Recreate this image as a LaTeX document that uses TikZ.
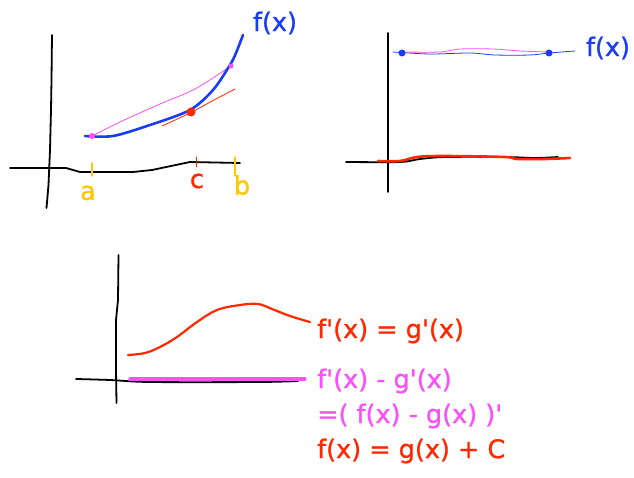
\documentclass[tikz,border=0pt]{standalone}
\usepackage{fontspec}
\newfontfamily\lab{DejaVu Sans}[FakeBold=1]
\definecolor{fblue}{RGB}{25,60,245}
\definecolor{fred}{RGB}{255,40,0}
\definecolor{fpink}{RGB}{250,80,250}
\definecolor{fyel}{RGB}{255,200,0}
\begin{document}
\begin{tikzpicture}[x=1pt,y=-1pt,line cap=round,line join=round,
  axis/.style={black,line width=1.8pt},
  txt/.style={font=\lab\fontsize{25.5}{30}\selectfont,inner sep=0pt},
  dotm/.style={circle,inner sep=0pt,minimum size=#1}]
\useasboundingbox (0,0) rectangle (634,478);
\fill[white] (0,0) rectangle (634,478);
% ---------- panel 1 ----------
\draw[axis] (52,35) -- (51.5,80) -- (51,110) -- (50,150) -- (48.5,185) -- (46.5,208);
\draw[axis] (10,168) -- (66,168) -- (80,172) -- (133,172) -- (152,170) -- (190,162) -- (240,163);
\draw[fyel,line width=1.5pt] (92,163) -- (92,176);
\draw[fyel,line width=1.5pt] (235,157) -- (235,176);
\draw[fred,line width=0.8pt] (196,157) -- (196,167);
\node[txt,text=fyel] (la) at (88,193) {a};
\node[txt,text=fred] (lc) at (197,181) {c};
\node[txt,text=fyel] (lb) at (242,185) {b};
\draw[fpink,line width=0.8pt] plot[smooth] coordinates {(92,136) (120,122) (160,104) (195,89) (231,66)};
\draw[fred,line width=0.8pt] plot[smooth] coordinates {(162,126) (190,113) (214,100) (235,89)};
\draw[fblue,line width=2.6pt] plot[smooth] coordinates {(85,136) (113,136) (150,125) (190,110) (213,90) (230,65) (236,53) (243,35)};
\node[dotm=6pt,fill=fpink] (p1) at (92,136) {};
\node[dotm=5pt,fill=fpink] (p2) at (231,66) {};
\node[dotm=9pt,fill=fred] (pc) at (191,112) {};
\node[txt,text=fblue] (f1) at (275,23) {f(x)};
% ---------- panel 2 ----------
\draw[axis] (388,33) -- (388,192);
\draw[axis] plot[smooth] coordinates {(346,162) (400,162) (420,159) (445,157) (505,157) (535,158) (558,157)};
\draw[fred,line width=2.6pt] plot[smooth] coordinates {(378,161) (400,161) (417,157) (443,156) (505,157) (517,159) (545,159) (570,158)};
\draw[fblue,line width=0.8pt] plot[smooth] coordinates {(393,52) (430,54) (470,53) (495,55) (530,55) (549,53) (575,51)};
\draw[fpink,line width=0.8pt] plot[smooth] coordinates {(402,52) (440,52) (460,49) (493,49) (520,51) (549,52)};
\node[dotm=7pt,fill=fblue] (q1) at (402,53) {};
\node[dotm=7pt,fill=fblue] (q2) at (549,53) {};
\node[txt,text=fblue] (f2) at (608,48) {f(x)};
% ---------- panel 3 ----------
\draw[axis] (118.5,255) -- (118,300) -- (116,320) -- (116,370) -- (116.5,403);
\draw[axis] plot[smooth] coordinates {(76,379) (110,380) (150,382) (260,382) (298,381)};
\draw[fpink,line width=3.2pt] (130,379) -- (305,379);
\draw[fred,line width=2.2pt] plot[smooth,tension=0.6] coordinates {(128,355) (145,353) (160,347) (177,337) (197,322) (217,310) (240,305) (258,304) (272,309) (290,316) (310,322)};
% ---------- text ----------
\node[txt,text=fred,anchor=west] (t1) at (317,331) {f\textquotesingle(x) = g\textquotesingle(x)};
\node[txt,text=fpink,anchor=west] (t2) at (317,381) {f\textquotesingle(x) - g\textquotesingle(x)};
\node[txt,text=fpink,anchor=west] (t3) at (317,416) {=( f(x) - g(x) )\textquotesingle};
\node[txt,text=fred,anchor=west] (t4) at (317,451) {f(x) = g(x) + C};
\end{tikzpicture}
\end{document}
